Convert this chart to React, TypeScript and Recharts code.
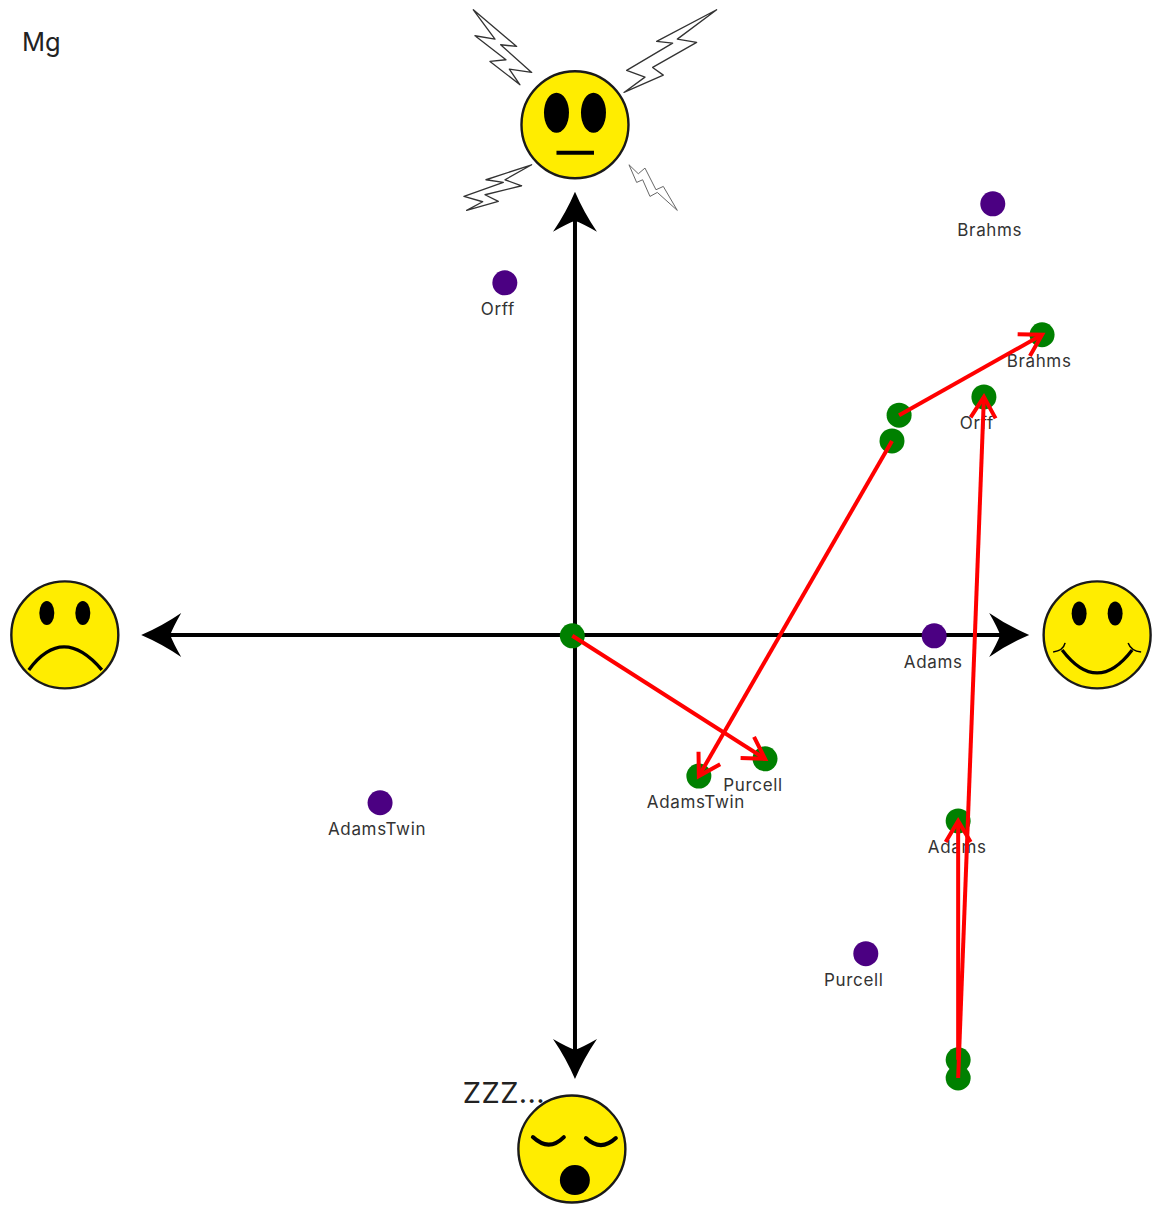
import { ReferenceDot, ReferenceLine, Scatter, ScatterChart, XAxis, YAxis } from 'recharts';

const pieces = ['Adams', 'AdamsTwin', 'Brahms', 'Orff', 'Purcell'];

// valence / arousal per piece
const beforeValence = [0.809, -0.439, 0.941, -0.158, 0.655];
const beforeArousal = [-0.002, -0.378, 0.971, 0.793, -0.718];
const afterValence = [0.863, 0.279, 1.052, 0.921, 0.428];
const afterArousal = [-0.419, -0.318, 0.676, 0.536, -0.279];
const startValence = [0.863, 0.714, 0.73, 0.863, -0.006];
const startArousal = [-0.957, 0.437, 0.495, -0.998, -0.002];

const axisEnds = [
  { x: 1.023, y: 0 },
  { x: -0.977, y: 0 },
  { x: 0, y: 0.998 },
  { x: 0, y: -1 },
];

const before = pieces.map((name, i) => ({ name, x: beforeValence[i], y: beforeArousal[i] }));
const after = pieces.map((name, i) => ({ name, x: afterValence[i], y: afterArousal[i] }));
const starts = pieces.map((name, i) => ({ x: startValence[i], y: startArousal[i] }));

const labelNudge: Record<string, number> = { Adams: -1, AdamsTwin: -3, Brahms: -3, Orff: -7, Purcell: -12 };

const YELLOW = '#ffed00';
const FONT = 'Inter, sans-serif';

const Dot = (color: string) => (props: any) => {
  const { cx, cy, payload } = props;
  return (
    <g>
      <circle cx={cx} cy={cy} r={12.5} fill={color} />
      {payload.name && (
        <text
          x={cx + labelNudge[payload.name]}
          y={cy + 32}
          textAnchor="middle"
          fontFamily={FONT}
          fontSize={17}
          letterSpacing={0.65}
          fill="#333"
        >
          {payload.name}
        </text>
      )}
    </g>
  );
};

const AxisArrow = (props: any) => {
  const { x1, y1, x2, y2 } = props;
  const angle = (Math.atan2(y2 - y1, x2 - x1) * 180) / Math.PI;
  const len = Math.hypot(x2 - x1, y2 - y1);
  return (
    <g transform={`translate(${x1},${y1}) rotate(${angle})`}>
      <line x1={0} y1={0} x2={len - 20} y2={0} stroke="#000" strokeWidth={4} />
      <path
        transform={`translate(${len},0)`}
        d="M0,0 Q-21,-9 -40,-22 Q-32,-8 -29,0 Q-32,8 -40,22 Q-21,9 0,0 Z"
        fill="#000"
      />
    </g>
  );
};

const RedArrow = (props: any) => {
  const { x1, y1, x2, y2 } = props;
  const angle = (Math.atan2(y2 - y1, x2 - x1) * 180) / Math.PI;
  const len = Math.hypot(x2 - x1, y2 - y1);
  return (
    <g transform={`translate(${x1},${y1}) rotate(${angle})`} stroke="#ff0000" strokeWidth={4} fill="none">
      <line x1={0} y1={0} x2={len} y2={0} />
      <path d={`M${len - 21},-12.5 L${len},0 L${len - 21},12.5`} />
    </g>
  );
};

const Eyes = ({ dx, dy, rx, ry }: { dx: number; dy: number; rx: number; ry: number }) => (
  <g fill="#000">
    <ellipse cx={-dx} cy={dy} rx={rx} ry={ry} />
    <ellipse cx={dx} cy={dy} rx={rx} ry={ry} />
  </g>
);

const Head = () => <circle r={53.5} fill={YELLOW} stroke="#1a1a1a" strokeWidth={2.4} />;

const HappyFace = ({ cx, cy }: any) => (
  <g transform={`translate(${cx},${cy})`}>
    <Head />
    <Eyes dx={18} dy={-21.5} rx={7.5} ry={12} />
    <path d="M-35,15 Q0,61 35,15" fill="none" stroke="#000" strokeWidth={3.2} />
    <path d="M-44,17 Q-34,16 -32,8 M44,17 Q34,16 31,8" fill="none" stroke="#000" strokeWidth={1.5} />
  </g>
);

const SadFace = ({ cx, cy }: any) => (
  <g transform={`translate(${cx},${cy})`}>
    <Head />
    <Eyes dx={18} dy={-22} rx={7.5} ry={12} />
    <path d="M-36,35 Q-2,-11 37,35" fill="none" stroke="#000" strokeWidth={3.4} />
  </g>
);

const NeutralFace = ({ cx, cy }: any) => (
  <g transform={`translate(${cx},${cy})`}>
    <g transform="scale(0.3333) translate(-375,-375)" fill="#fff" stroke="#333" strokeWidth={4} strokeLinejoin="round">
      <path d="M70,30 L200,140 L152,135 L245,218 L178,208 L210,255 L120,185 L168,180 L75,108 L135,118 Z" />
      <path d="M800,30 L620,125 L668,130 L530,212 L585,232 L522,278 L640,226 L608,203 L740,128 L682,118 Z" />
      <path d="M245,495 L108,540 L160,548 L42,590 L98,606 L50,632 L145,605 L105,585 L215,558 L165,540 Z" />
      <path d="M537,495 L560,548 L578,540 L600,590 L622,578 L682,632 L640,560 L618,570 L585,505 L565,522 Z" stroke="#666" strokeWidth={3} />
    </g>
    <Head />
    <Eyes dx={18.5} dy={-12} rx={12.5} ry={20} />
    <line x1={-18.5} y1={28} x2={19} y2={28} stroke="#000" strokeWidth={4} />
  </g>
);

const SleepyFace = ({ cx, cy }: any) => (
  <g transform={`translate(${cx},${cy})`}>
    <text x={-109} y={-46} fontFamily={FONT} fontSize={29} letterSpacing={0.4} fill="#222">
      ZZZ...
    </text>
    <Head />
    <path d="M-39,-12 Q-23,3 -8,-12 M14,-11 Q29,3 44,-11" fill="none" stroke="#000" strokeWidth={4} strokeLinecap="round" />
    <circle cx={3} cy={31} r={15} fill="#000" />
  </g>
);

const App = () => {
  return (
    <div style={{ position: 'absolute', left: 0, top: 0, width: 1160, height: 1213 }}>
      <div style={{ position: 'absolute', left: 22, top: 26, fontFamily: FONT, fontSize: 25.5, lineHeight: '32px', color: '#222' }}>
        Mg
      </div>
      <ScatterChart width={1160} height={1213} margin={{ top: 0, right: 0, bottom: 0, left: 0 }}>
        <XAxis type="number" dataKey="x" hide domain={[-1.295, 1.3176]} allowDataOverflow />
        <YAxis type="number" dataKey="y" hide domain={[-1.302, 1.43]} allowDataOverflow />
        {axisEnds.map((end, i) => (
          <ReferenceLine
            key={`axis-${i}`}
            segment={[{ x: 0, y: 0 }, end]}
            ifOverflow="visible"
            shape={AxisArrow}
            zIndex={100}
          />
        ))}
        <ReferenceDot x={1.176} y={0} ifOverflow="visible" shape={HappyFace} zIndex={100} />
        <ReferenceDot x={-1.149} y={0} ifOverflow="visible" shape={SadFace} zIndex={100} />
        <ReferenceDot x={0} y={1.149} ifOverflow="visible" shape={NeutralFace} zIndex={100} />
        <ReferenceDot x={-0.007} y={-1.158} ifOverflow="visible" shape={SleepyFace} zIndex={100} />
        <Scatter data={before} shape={Dot('#4b0082')} isAnimationActive={false} />
        <Scatter data={after} shape={Dot('#008000')} isAnimationActive={false} />
        <Scatter data={starts} shape={Dot('#008000')} isAnimationActive={false} />
        {starts.map((s, i) => (
          <ReferenceLine
            key={`move-${i}`}
            segment={[s, { x: after[i].x, y: after[i].y }]}
            ifOverflow="visible"
            shape={RedArrow}
            zIndex={1000}
          />
        ))}
      </ScatterChart>
    </div>
  );
};

export default App;
